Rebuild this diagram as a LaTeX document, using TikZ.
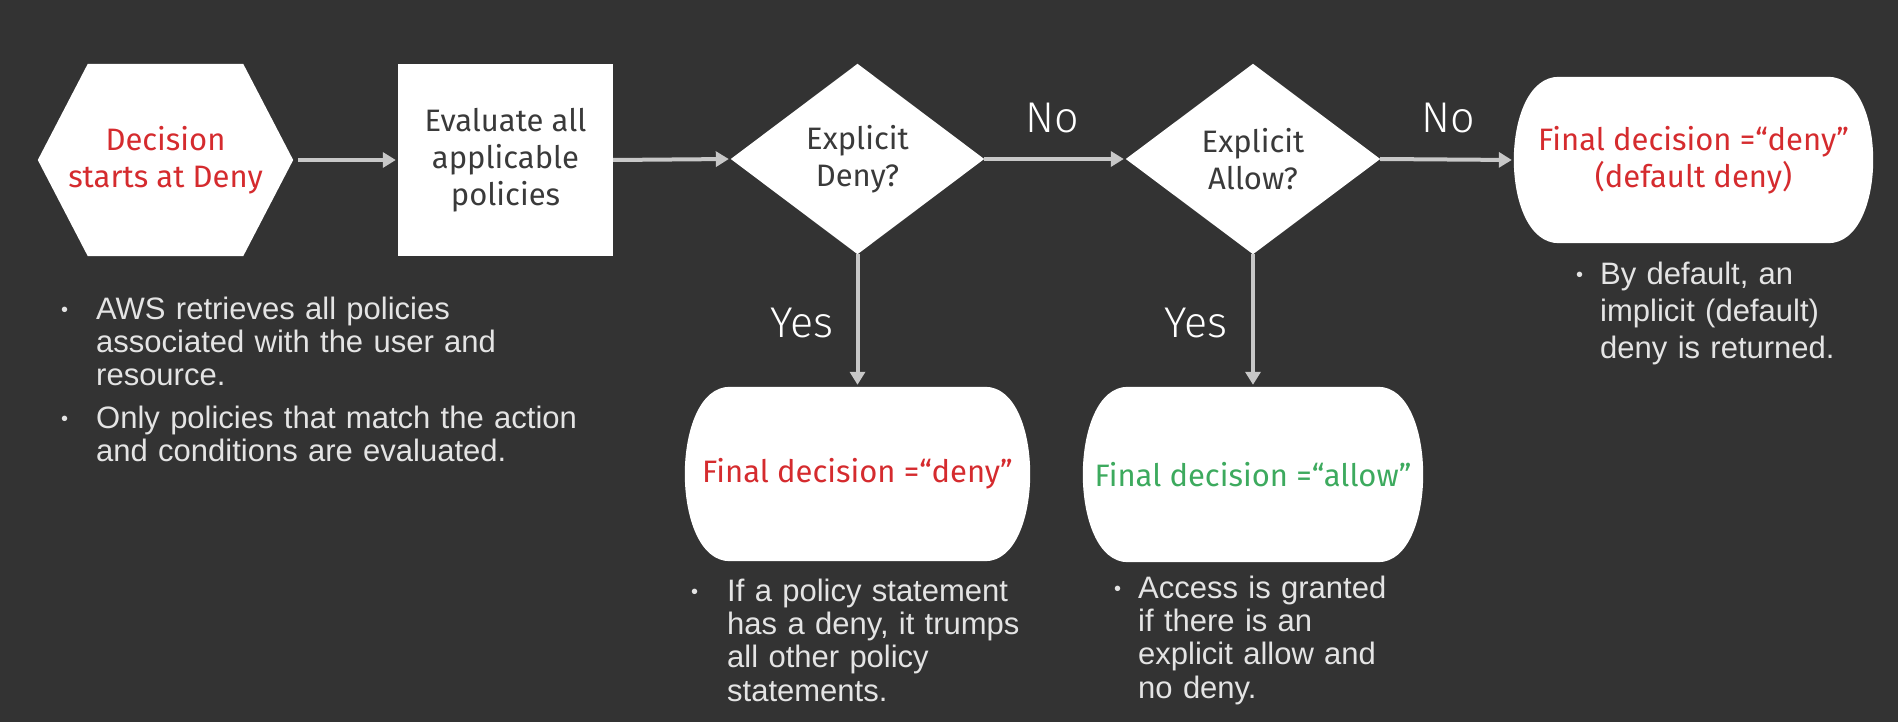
\documentclass[tikz,border=0pt]{standalone}
\usepackage{fontspec}
\setmainfont{Fira Sans}
\newfontfamily\lightfont{Fira Sans Light}
\newfontfamily\arialfont{Liberation Sans}
\usetikzlibrary{arrows.meta,backgrounds,calc}
\definecolor{bgc}{HTML}{333333}
\definecolor{arrowc}{HTML}{C8C8C8}
\definecolor{redtxt}{HTML}{D52B2E}
\definecolor{greentxt}{HTML}{3DAA5E}
\definecolor{darktxt}{HTML}{3A3A3A}
\definecolor{bullettxt}{HTML}{E4E4E4}
\newcommand\bitem[2]{\par\noindent\hangindent=#1\hangafter=1\hbox to #1{\raisebox{3pt}{\fontsize{20}{20}\selectfont •}\hfil}#2\par}
\begin{document}
\begin{tikzpicture}[x=1pt,y=-1pt,
  shapenode/.style={inner sep=0pt, align=center, font=\fontsize{31}{37}\selectfont},
  arr/.style={draw=arrowc, line width=4pt, -{Triangle[length=13pt,width=15pt]}},
  lbl/.style={font=\lightfont\fontsize{43}{43}\selectfont, text=white, inner sep=0pt},
  blist/.style={font=\arialfont\fontsize{31}{33.2}\selectfont, text=bullettxt, text width=560pt, inner sep=0pt, execute at begin node={\raggedright\setlength\parskip{9pt}}}
]
\useasboundingbox (0,0) rectangle (1898,722);

% nodes
\node[shapenode, minimum width=255pt, minimum height=192pt, text=redtxt] (start) at (165.5,160) {Decision\\starts at Deny};
\node[shapenode, minimum width=215pt, minimum height=192pt, text=darktxt, fill=white] (eval) at (505.5,160) {Evaluate all\\applicable\\policies};
\node[shapenode, minimum width=253pt, minimum height=190pt, text=darktxt] (d1) at (857.5,159) {Explicit\\Deny?};
\node[shapenode, minimum width=254pt, minimum height=190pt, text=darktxt] (d2) at (1253,159) {Explicit\\Allow?};
\node[shapenode, minimum width=359pt, minimum height=166pt, text=redtxt] (fdef) at (1693.5,160) {Final decision =“deny”\\(default deny)};
\node[shapenode, minimum width=345pt, minimum height=174pt, text=redtxt] (fdeny) at (857.5,474) {Final decision =“deny”};
\node[shapenode, minimum width=340pt, minimum height=175pt, text=greentxt] (fallow) at (1253,474.5) {Final decision =“allow”};

% shapes
\begin{scope}[on background layer]
  \fill[bgc] (0,0) rectangle (1898,722);
  \fill[white] (start.west) -- ([xshift=50pt]start.north west) -- ([xshift=-50pt]start.north east) -- (start.east) -- ([xshift=-50pt]start.south east) -- ([xshift=50pt]start.south west) -- cycle;
  \foreach \d in {d1,d2}{
    \fill[white] (\d.north) -- (\d.east) -- (\d.south) -- (\d.west) -- cycle;
  }
  \foreach \t in {fdef,fdeny,fallow}{
    \fill[white] ([xshift=45pt]\t.north west) -- ([xshift=-45pt]\t.north east)
      .. controls ([xshift=15pt]\t.north east) and ([xshift=15pt]\t.south east) .. ([xshift=-45pt]\t.south east)
      -- ([xshift=45pt]\t.south west)
      .. controls ([xshift=-15pt]\t.south west) and ([xshift=-15pt]\t.north west) .. cycle;
  }
\end{scope}

% connectors
\draw[arr, shorten <=5pt, shorten >=2pt] (start.east) -- (eval.west);
\draw[arr, shorten >=2pt] (eval.east) -- (d1.west);
\draw[arr, shorten >=2pt] (d1.east) -- (d2.west);
\draw[arr, shorten >=2pt] (d2.east) -- (fdef.west);
\draw[arr, shorten >=2pt] (d1.south) -- (d1.south |- fdeny.north);
\draw[arr, shorten >=2pt] (d2.south) -- (d2.south |- fallow.north);

% labels
\node[lbl, anchor=base] (no1) at (1052,133) {No};
\node[lbl, anchor=base] (no2) at (1448,133) {No};
\node[lbl, anchor=base] (yes1) at (802,337) {Yes};
\node[lbl, anchor=base] (yes2) at (1196,337) {Yes};

% bullet texts
\node[blist, anchor=north west] (t1) at (61,277) {\bitem{35pt}{AWS retrieves all policies\newline associated with the user and\newline resource.}\bitem{35pt}{Only policies that match the action\newline and conditions are evaluated.}};
\node[blist, anchor=north west] (t2) at (691,559) {\bitem{36pt}{If a policy statement\newline has a deny, it trumps\newline all other policy\newline statements.}};
\node[blist, anchor=north west] (t3) at (1114,556) {\bitem{24pt}{Access is granted\newline if there is an\newline explicit allow and\newline no deny.}};
\node[blist, anchor=north west, font=\arialfont\fontsize{31}{37}\selectfont] (t4) at (1576,238) {\bitem{24pt}{By default, an\newline implicit (default)\newline deny is returned.}};
\end{tikzpicture}
\end{document}
